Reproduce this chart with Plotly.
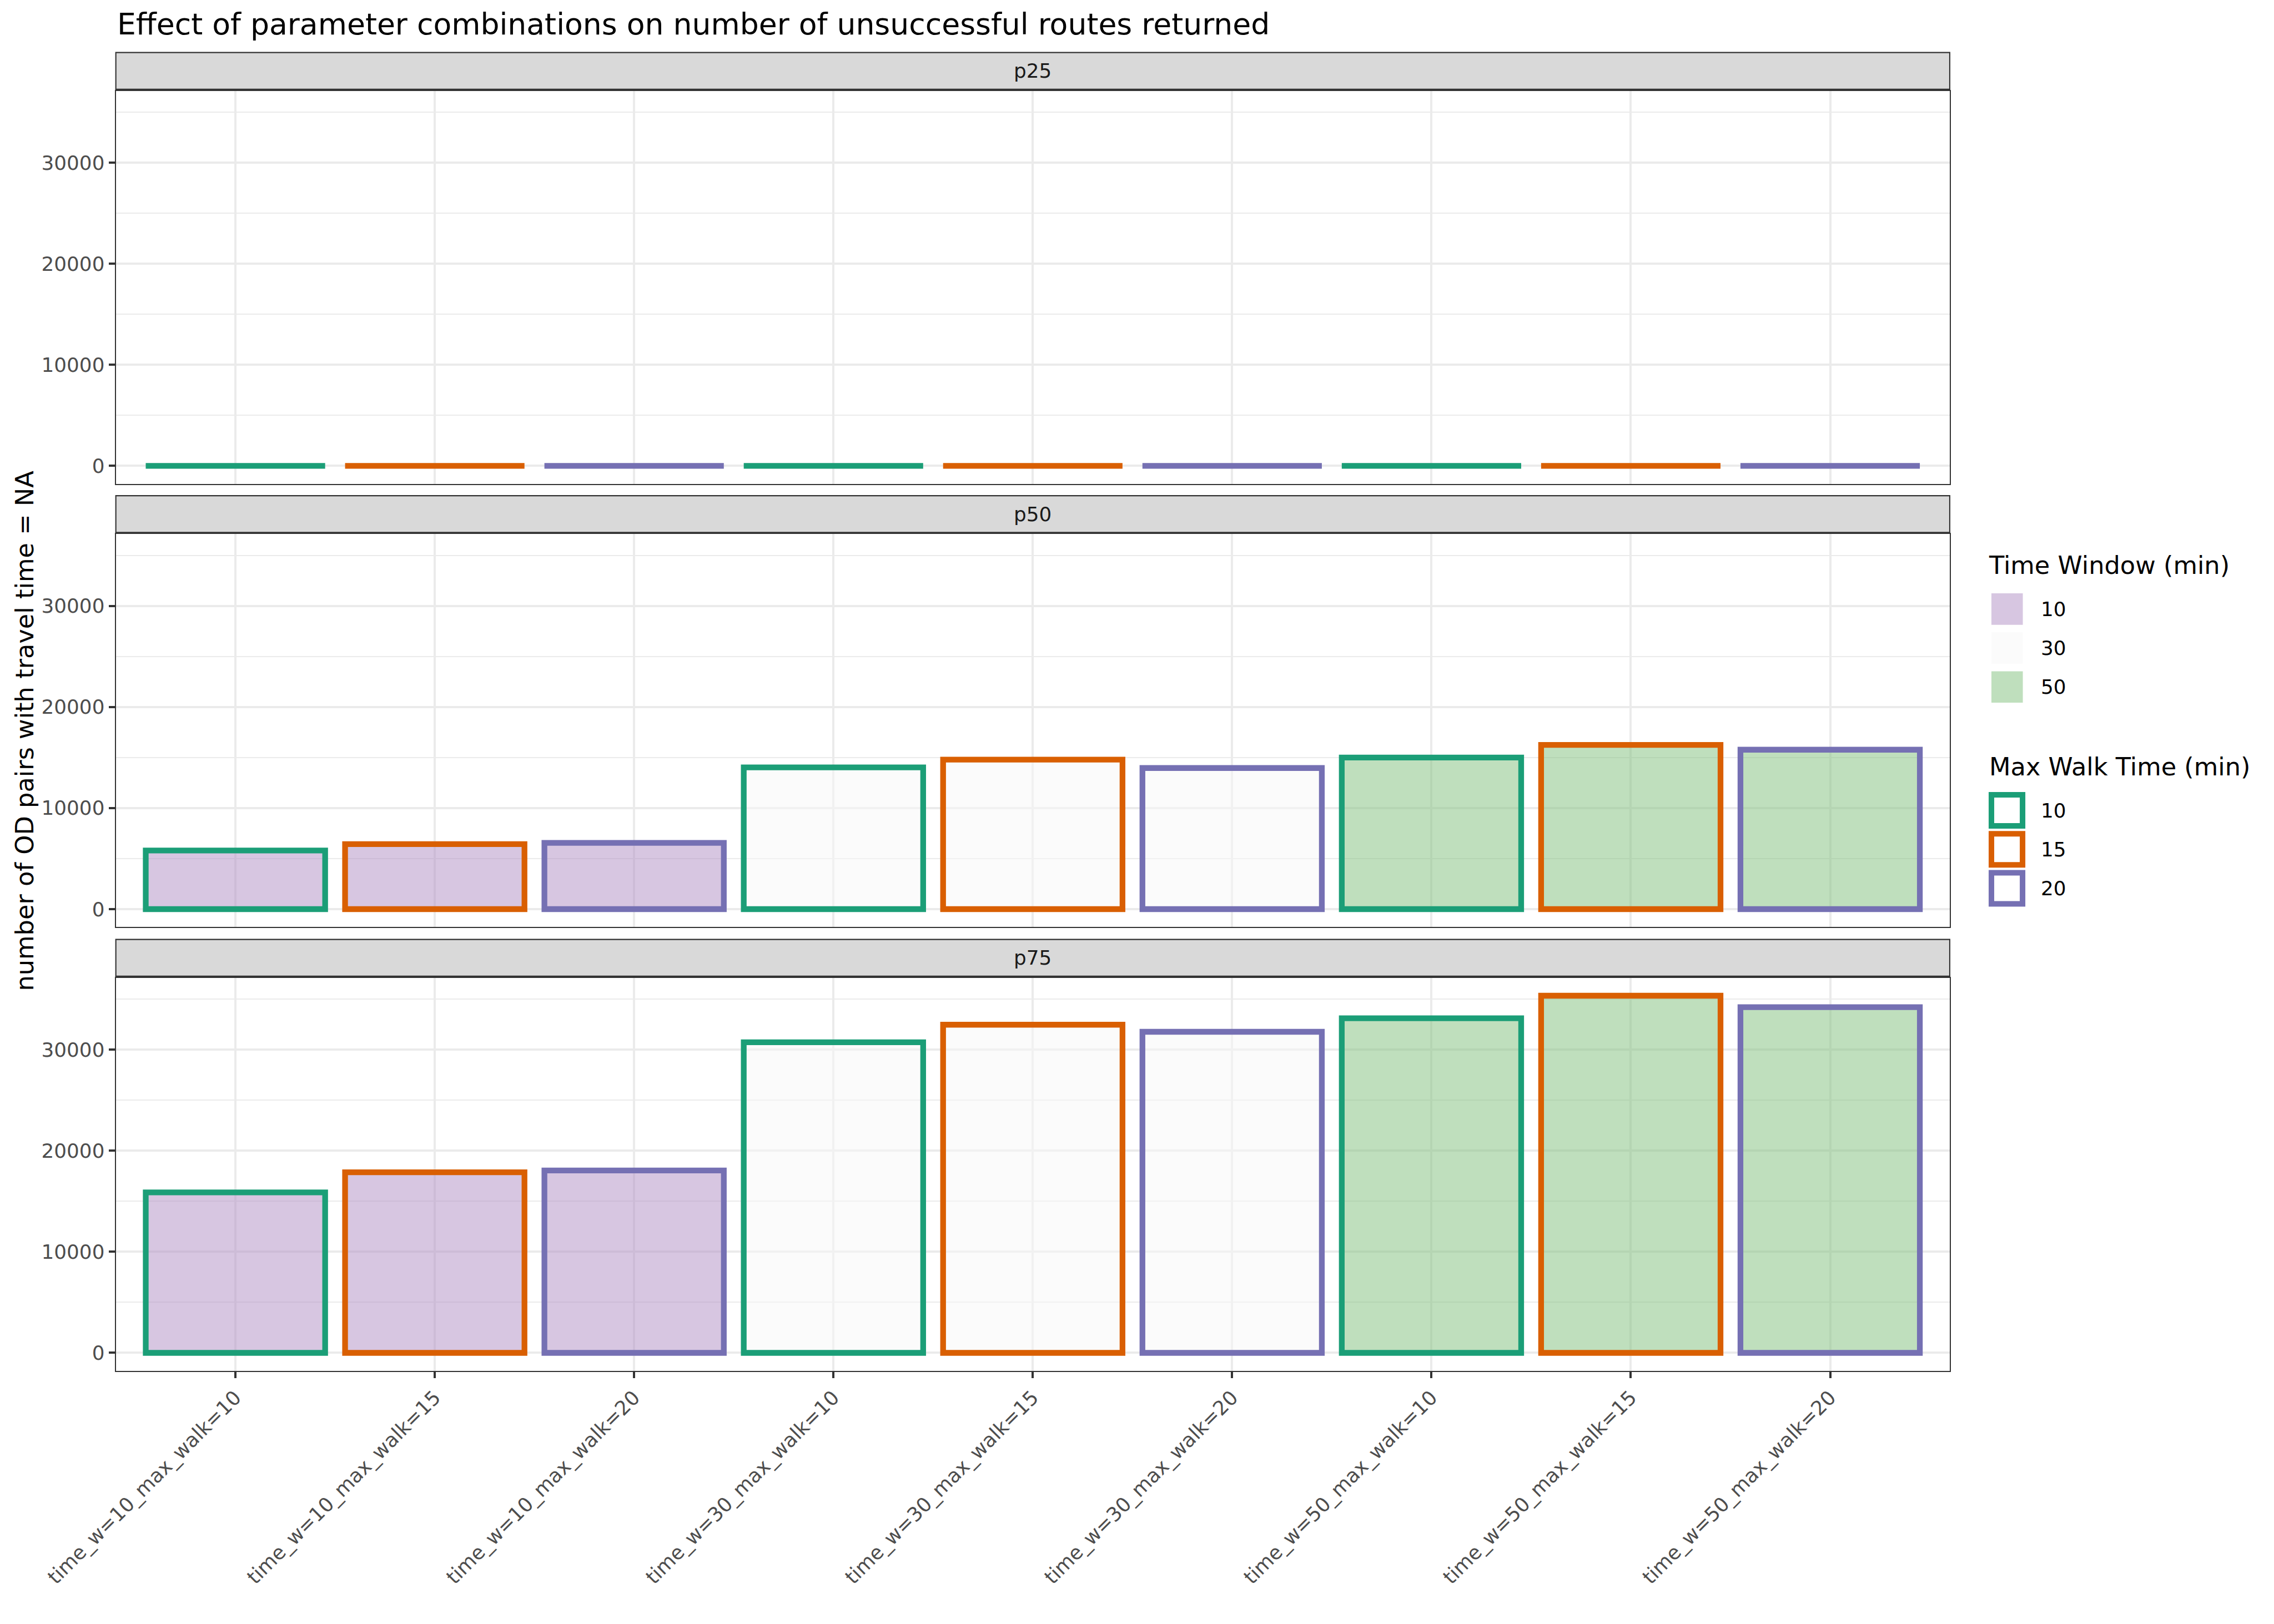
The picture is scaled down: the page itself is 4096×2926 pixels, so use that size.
import plotly.graph_objects as go

# ---------------- data ----------------
categories = [
    "time_w=10_max_walk=10", "time_w=10_max_walk=15", "time_w=10_max_walk=20",
    "time_w=30_max_walk=10", "time_w=30_max_walk=15", "time_w=30_max_walk=20",
    "time_w=50_max_walk=10", "time_w=50_max_walk=15", "time_w=50_max_walk=20",
]
time_window = [10, 10, 10, 30, 30, 30, 50, 50, 50]
max_walk = [10, 15, 20, 10, 15, 20, 10, 15, 20]

panel_names = ["p25", "p50", "p75"]
p25_values = [0, 0, 0, 0, 0, 0, 0, 0, 0]
p50_values = [5800, 6430, 6550, 14020, 14790, 13960, 15000, 16250, 15770]
p75_values = [15870, 17860, 18040, 30730, 32460, 31760, 33100, 35330, 34200]

y_tick_values = [0, 10000, 20000, 30000]

time_window_levels = [10, 30, 50]
time_window_fills = ["rgba(175,141,195,0.5)", "rgba(247,247,247,0.5)", "rgba(127,191,123,0.5)"]
max_walk_levels = [10, 15, 20]
max_walk_colors = ["#1B9E77", "#D95F02", "#7570B3"]

title_text = "Effect of parameter combinations on number of unsuccessful routes returned"
y_title_text = "number of OD pairs with travel time = NA"
legend1_title = "Time Window (min)"
legend2_title = "Max Walk Time (min)"

# ---------------- geometry (reference px -> output) ----------------
S = 0.975
W, H = 4096, 2926
FONT = "DejaVu Sans"


def fx(x):
    return x * S / W


def fy(y):
    return 1 - y * S / H


panel_left, panel_right = 214, 3602
panel_tops = [168, 987, 1807]
panel_h = 726
strip_h = 68
strip_gap = 3

fill_map = dict(zip(time_window_levels, time_window_fills))
line_map = dict(zip(max_walk_levels, max_walk_colors))
bar_fills = [fill_map[t] for t in time_window]
bar_lines = [line_map[m] for m in max_walk]

all_values = [p25_values, p50_values, p75_values]
ymax = max(max(v) for v in all_values)
y_range = [-0.05 * ymax, 1.05 * ymax]

fig = go.Figure()
layout = dict(
    width=W, height=H,
    margin=dict(l=0, r=0, t=0, b=0, autoexpand=False),
    paper_bgcolor="white", plot_bgcolor="white",
    font=dict(family=FONT, color="#4D4D4D"),
    showlegend=False,
    bargap=0.1,
)

shapes = []
annotations = []

for i, (name, vals) in enumerate(zip(panel_names, all_values)):
    idx = "" if i == 0 else str(i + 1)
    xa, ya = "x" + idx, "y" + idx
    fig.add_trace(go.Bar(
        x=categories, y=vals, xaxis=xa, yaxis=ya,
        marker=dict(color=bar_fills, line=dict(color=bar_lines, width=10.3)),
        width=0.9, showlegend=False,
    ))
    top = panel_tops[i]
    bottom = top + panel_h
    is_last = i == len(panel_names) - 1
    layout["xaxis" + idx] = dict(
        domain=[fx(panel_left), fx(panel_right)],
        anchor=ya, type="category", range=[-0.6, len(categories) - 0.4],
        categoryorder="array", categoryarray=categories,
        showgrid=True, gridcolor="#EBEBEB", gridwidth=4.2,
        showline=True, mirror=True, linecolor="#333333", linewidth=2.1,
        ticks="outside" if is_last else "", ticklen=11, tickwidth=4, tickcolor="#333333",
        showticklabels=is_last, tickangle=-45,
        tickfont=dict(family=FONT, size=35.8, color="#4D4D4D"),
        zeroline=False, fixedrange=True, automargin=False,
    )
    layout["yaxis" + idx] = dict(
        domain=[fy(bottom), fy(top)],
        anchor=xa, range=y_range,
        tickmode="array", tickvals=y_tick_values, tickformat="d",
        showgrid=True, gridcolor="#EBEBEB", gridwidth=4.2,
        minor=dict(dtick=5000, tick0=0, showgrid=True, gridcolor="#EBEBEB", gridwidth=2.1, ticks=""),
        showline=True, mirror=True, linecolor="#333333", linewidth=2.1,
        ticks="outside", ticklen=11, tickwidth=4, tickcolor="#333333",
        tickfont=dict(family=FONT, size=35.8, color="#4D4D4D"),
        zeroline=False, fixedrange=True, automargin=False,
    )
    # facet strip
    s_top = top - strip_gap - strip_h
    s_bot = top - strip_gap
    shapes.append(dict(
        type="rect", xref="paper", yref="paper",
        x0=fx(panel_left), x1=fx(panel_right), y0=fy(s_bot), y1=fy(s_top),
        fillcolor="#D9D9D9", line=dict(color="#333333", width=2.1), layer="above",
    ))
    annotations.append(dict(
        text=name, xref="paper", yref="paper",
        x=fx((panel_left + panel_right) / 2), y=fy((s_top + s_bot) / 2),
        xanchor="center", yanchor="middle", showarrow=False,
        font=dict(family=FONT, size=35.8, color="#1A1A1A"),
    ))

# title
annotations.append(dict(
    text=title_text, xref="paper", yref="paper",
    x=fx(214), y=fy(44.5), xanchor="left", yanchor="middle", showarrow=False,
    font=dict(family=FONT, size=53.6, color="black"),
))
# y-axis title
annotations.append(dict(
    text=y_title_text, xref="paper", yref="paper", textangle=-90,
    x=fx(46), y=fy((panel_tops[0] + panel_tops[-1] + panel_h) / 2),
    xanchor="center", yanchor="middle", showarrow=False,
    font=dict(family=FONT, size=44.7, color="black"),
))

# legend 1: Time Window (fill)
annotations.append(dict(
    text=legend1_title, xref="paper", yref="paper",
    x=fx(3672), y=fy(1045.5), xanchor="left", yanchor="middle", showarrow=False,
    font=dict(family=FONT, size=44.7, color="black"),
))
key1_centers = [1125.5, 1197.5, 1269.5]
for lvl, col, cy in zip(time_window_levels, time_window_fills, key1_centers):
    shapes.append(dict(
        type="rect", xref="paper", yref="paper",
        x0=fx(3679), x1=fx(3737), y0=fy(cy + 29), y1=fy(cy - 29),
        fillcolor=col, line=dict(width=0),
    ))
    annotations.append(dict(
        text=str(lvl), xref="paper", yref="paper",
        x=fx(3768), y=fy(cy), xanchor="left", yanchor="middle", showarrow=False,
        font=dict(family=FONT, size=35.8, color="black"),
    ))

# legend 2: Max Walk Time (outline)
annotations.append(dict(
    text=legend2_title, xref="paper", yref="paper",
    x=fx(3673), y=fy(1417.5), xanchor="left", yanchor="middle", showarrow=False,
    font=dict(family=FONT, size=44.7, color="black"),
))
key2_centers = [1497.5, 1569.5, 1641.5]
for lvl, col, cy in zip(max_walk_levels, max_walk_colors, key2_centers):
    shapes.append(dict(
        type="rect", xref="paper", yref="paper",
        x0=fx(3679), x1=fx(3736.5), y0=fy(cy + 28.75), y1=fy(cy - 28.75),
        fillcolor="white", line=dict(color=col, width=10),
    ))
    annotations.append(dict(
        text=str(lvl), xref="paper", yref="paper",
        x=fx(3768), y=fy(cy), xanchor="left", yanchor="middle", showarrow=False,
        font=dict(family=FONT, size=35.8, color="black"),
    ))

layout["shapes"] = shapes
layout["annotations"] = annotations
fig.update_layout(**layout)
fig.write_html("out.html")
